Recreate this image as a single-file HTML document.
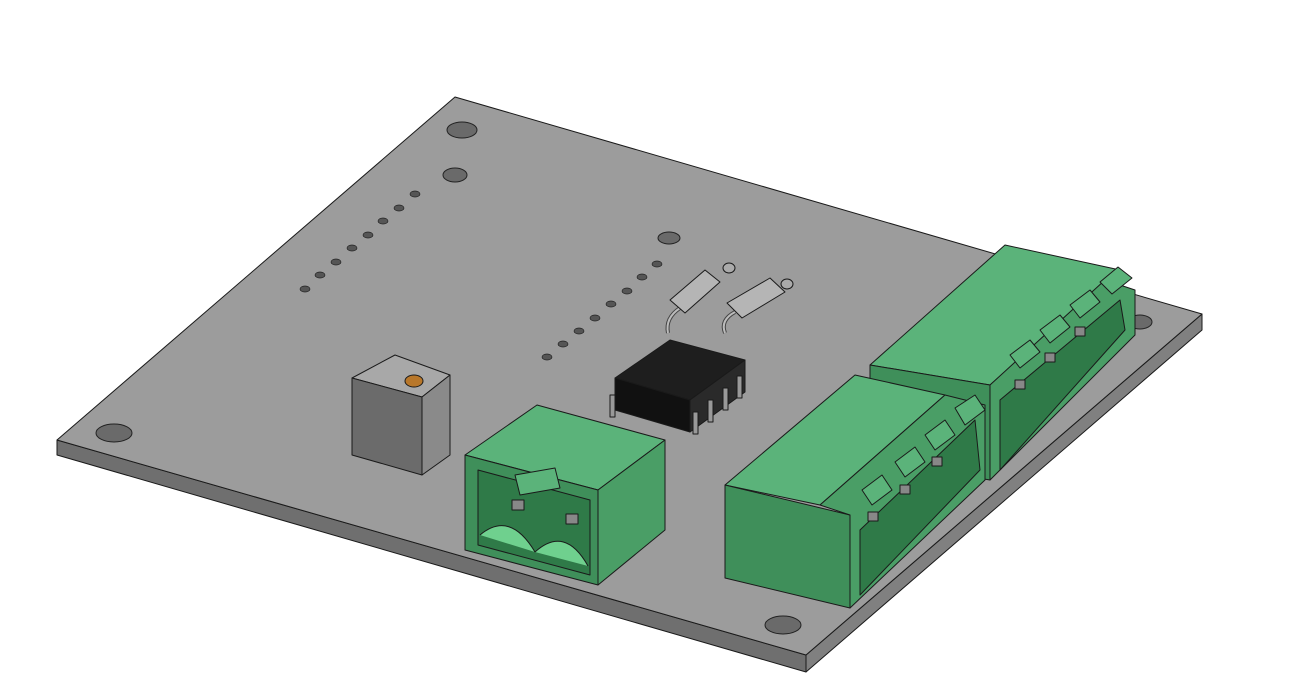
<!DOCTYPE html>
<html><head><meta charset="utf-8"><style>html,body{margin:0;padding:0;background:#fff}svg{display:block}</style></head>
<body>
<svg width="1297" height="692" viewBox="0 0 1297 692" xmlns="http://www.w3.org/2000/svg" stroke="#1a1a1a" stroke-width="1" stroke-linejoin="round">
<rect width="1297" height="692" fill="#fff" stroke="none"/>
<!-- board -->
<polygon points="57,440 806,655 806,672 57,455" fill="#6f6f6f"/>
<polygon points="806,655 1202,314 1202,330 806,672" fill="#808080"/>
<polygon points="57,440 455,97 1202,314 806,655" fill="#9c9c9c"/>
<!-- holes -->
<g fill="#6a6a6a" stroke="#222">
<ellipse cx="462" cy="130" rx="15" ry="8"/>
<ellipse cx="455" cy="175" rx="12" ry="7"/>
<ellipse cx="114" cy="433" rx="18" ry="9"/>
<ellipse cx="783" cy="625" rx="18" ry="9"/>
<ellipse cx="1140" cy="322" rx="12" ry="7"/>
<ellipse cx="669" cy="238" rx="11" ry="6"/>
</g>
<g fill="#555" stroke="#222" stroke-width="0.7">
<ellipse cx="305" cy="289" rx="5" ry="3"/><ellipse cx="320" cy="275" rx="5" ry="3"/><ellipse cx="336" cy="262" rx="5" ry="3"/><ellipse cx="352" cy="248" rx="5" ry="3"/><ellipse cx="368" cy="235" rx="5" ry="3"/><ellipse cx="383" cy="221" rx="5" ry="3"/><ellipse cx="399" cy="208" rx="5" ry="3"/><ellipse cx="415" cy="194" rx="5" ry="3"/>
<ellipse cx="547" cy="357" rx="5" ry="3"/><ellipse cx="563" cy="344" rx="5" ry="3"/><ellipse cx="579" cy="331" rx="5" ry="3"/><ellipse cx="595" cy="318" rx="5" ry="3"/><ellipse cx="611" cy="304" rx="5" ry="3"/><ellipse cx="627" cy="291" rx="5" ry="3"/><ellipse cx="642" cy="277" rx="5" ry="3"/><ellipse cx="657" cy="264" rx="5" ry="3"/>
</g>
<!-- potentiometer -->
<polygon points="352,378 395,355 450,375 422,397" fill="#a8a8a8"/>
<polygon points="352,378 422,397 422,475 352,455" fill="#6b6b6b"/>
<polygon points="422,397 450,375 450,455 422,475" fill="#8a8a8a"/>
<ellipse cx="414" cy="381" rx="9" ry="6" fill="#b8772a"/>
<!-- resistors -->
<path d="M668,333 Q665,318 680,308" fill="none" stroke="#444" stroke-width="4"/>
<path d="M668,333 Q665,318 680,308" fill="none" stroke="#bbb" stroke-width="2"/>
<path d="M725,333 Q720,320 735,312" fill="none" stroke="#444" stroke-width="4"/>
<path d="M725,333 Q720,320 735,312" fill="none" stroke="#bbb" stroke-width="2"/>
<polygon points="670,300 705,270 720,282 685,313" fill="#b5b5b5"/>
<polygon points="727,303 770,278 785,292 742,318" fill="#b5b5b5"/>
<ellipse cx="729" cy="268" rx="6" ry="5" fill="#aaa"/>
<ellipse cx="787" cy="284" rx="6" ry="5" fill="#aaa"/>
<!-- IC -->
<polygon points="615,378 670,340 745,360 690,400" fill="#1e1e1e"/>
<polygon points="615,378 690,400 690,432 615,410" fill="#111"/>
<polygon points="690,400 745,360 745,392 690,432" fill="#2a2a2a"/>
<g fill="#999"><rect x="693" y="412" width="5" height="22"/><rect x="708" y="400" width="5" height="22"/><rect x="723" y="388" width="5" height="22"/><rect x="737" y="376" width="5" height="22"/><rect x="610" y="395" width="5" height="22"/></g>
<!-- 2-pin connector -->
<polygon points="465,455 537,405 665,440 598,490" fill="#5bb37a"/>
<polygon points="465,455 598,490 598,585 465,550" fill="#3f8f5a"/>
<polygon points="598,490 665,440 665,530 598,585" fill="#4a9e66"/>
<polygon points="478,470 590,500 590,575 478,545" fill="#2f7a48"/>
<path d="M480,535 Q510,510 535,552 M535,552 Q565,525 588,566" fill="#6fd08e" stroke="#1a1a1a"/>
<polygon points="515,475 555,468 560,488 520,495" fill="#5bb37a"/>
<rect x="512" y="500" width="12" height="10" fill="#888"/>
<rect x="566" y="514" width="12" height="10" fill="#888"/>
<!-- back 4-pin connector -->
<polygon points="870,365 1005,245 1120,270 990,385" fill="#5bb37a"/>
<polygon points="870,365 990,385 990,480 870,460" fill="#3f8f5a"/>
<polygon points="990,385 1105,280 1135,290 1135,335 990,480" fill="#4a9e66"/>
<polygon points="1000,400 1120,300 1125,330 1000,470" fill="#2f7a48"/>
<g fill="#5bb37a"><polygon points="1010,355 1030,340 1040,352 1020,368"/><polygon points="1040,330 1060,315 1070,327 1050,343"/><polygon points="1070,305 1090,290 1100,302 1080,318"/><polygon points="1100,282 1118,267 1132,278 1112,294"/></g>
<g fill="#888"><rect x="1015" y="380" width="10" height="9"/><rect x="1045" y="353" width="10" height="9"/><rect x="1075" y="327" width="10" height="9"/></g>
<!-- front 4-pin connector -->
<polygon points="725,485 855,375 945,395 820,505" fill="#5bb37a"/>
<polygon points="725,485 850,515 850,608 725,578" fill="#3f8f5a"/>
<polygon points="820,505 945,395 985,405 985,480 850,608 850,515" fill="#4a9e66"/>
<polygon points="860,530 975,420 980,470 860,595" fill="#2f7a48"/>
<g fill="#5bb37a"><polygon points="862,490 882,475 892,490 872,505"/><polygon points="895,462 915,447 925,462 905,477"/><polygon points="925,435 945,420 955,435 935,450"/><polygon points="955,408 975,395 985,410 965,425"/></g>
<g fill="#888"><rect x="868" y="512" width="10" height="9"/><rect x="900" y="485" width="10" height="9"/><rect x="932" y="457" width="10" height="9"/></g>
</svg>
</body></html>
